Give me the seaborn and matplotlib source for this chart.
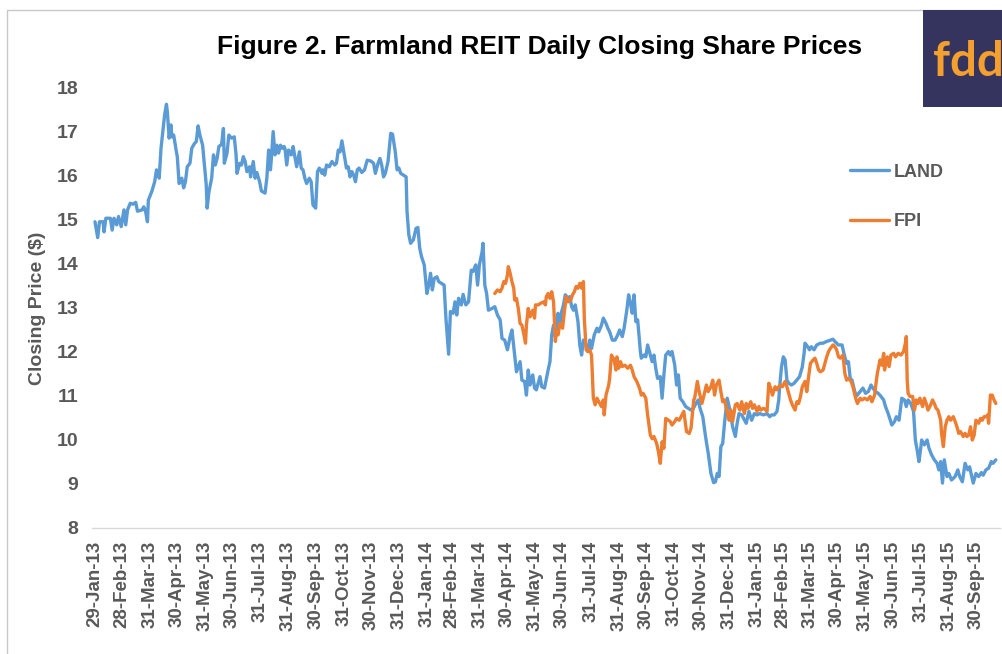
import matplotlib
matplotlib.use("Agg")
import matplotlib.pyplot as plt
from matplotlib.patches import Rectangle
import pandas as pd
import seaborn as sns

# Farmland REIT daily closing prices (days counted from first trading day)
start_date = "2013-01-29"

tick_labels = ["29-Jan-13", "28-Feb-13", "31-Mar-13", "30-Apr-13", "31-May-13", "30-Jun-13",
               "31-Jul-13", "31-Aug-13", "30-Sep-13", "31-Oct-13", "30-Nov-13", "31-Dec-13",
               "31-Jan-14", "28-Feb-14", "31-Mar-14", "30-Apr-14", "31-May-14", "30-Jun-14",
               "31-Jul-14", "31-Aug-14", "30-Sep-14", "31-Oct-14", "30-Nov-14", "31-Dec-14",
               "31-Jan-15", "28-Feb-15", "31-Mar-15", "30-Apr-15", "31-May-15", "30-Jun-15",
               "31-Jul-15", "31-Aug-15", "30-Sep-15"]

y_ticks = [8, 9, 10, 11, 12, 13, 14, 15, 16, 17, 18]

land_days = [0, 3, 5, 9, 10, 12, 17, 19, 21, 24,
             26, 29, 32, 34, 36, 39, 42, 45, 47, 52,
             54, 56, 58, 59, 63, 65, 66, 68, 71, 73,
             75, 77, 79, 80, 82, 84, 85, 87, 90, 91,
             93, 96, 98, 100, 102, 105, 107, 110, 112, 114,
             116, 119, 121, 123, 124, 126, 129, 131, 133, 135,
             137, 140, 142, 143, 146, 148, 151, 154, 156, 157,
             160, 162, 164, 166, 168, 171, 172, 175, 177, 179,
             182, 184, 188, 190, 192, 194, 195, 197, 199, 201,
             203, 205, 207, 209, 210, 212, 214, 217, 219, 221,
             223, 226, 228, 230, 232, 234, 237, 239, 241, 244,
             246, 248, 251, 252, 254, 256, 259, 262, 265, 267,
             269, 271, 273, 275, 278, 280, 282, 284, 286, 288,
             290, 292, 295, 298, 301, 305, 308, 310, 313, 315,
             317, 319, 321, 324, 327, 329, 332, 334, 336, 338,
             341, 344, 345, 347, 349, 352, 355, 357, 359, 361,
             364, 367, 369, 371, 373, 375, 378, 380, 383, 386,
             388, 391, 393, 396, 398, 400, 402, 405, 407, 410,
             413, 416, 418, 421, 423, 425, 428, 429, 431, 433,
             435, 439, 442, 445, 448, 450, 453, 456, 459, 461,
             464, 466, 470, 472, 475, 477, 479, 481, 484, 486,
             488, 492, 494, 497, 501, 503, 505, 507, 509, 512,
             514, 516, 518, 520, 523, 525, 527, 529, 531, 534,
             536, 538, 540, 543, 545, 547, 549, 552, 555, 557,
             560, 562, 565, 567, 569, 572, 575, 578, 580, 583,
             585, 588, 590, 592, 594, 596, 598, 600, 603, 604,
             607, 609, 611, 613, 616, 618, 620, 622, 625, 627,
             629, 631, 634, 636, 638, 641, 643, 645, 647, 650,
             653, 656, 659, 661, 665, 667, 669, 672, 674, 676,
             678, 681, 684, 686, 688, 690, 692, 694, 696, 699,
             702, 705, 708, 710, 712, 715, 720, 723, 726, 729,
             732, 735, 739, 743, 746, 748, 751, 754, 756, 757,
             759, 761, 763, 765, 767, 770, 773, 779, 782, 784,
             785, 788, 790, 792, 795, 798, 802, 805, 809, 813,
             816, 818, 822, 826, 828, 831, 833, 835, 837, 840,
             842, 846, 849, 852, 855, 858, 860, 863, 866, 869,
             872, 874, 877, 881, 884, 886, 889, 892, 895, 897,
             899, 902, 905, 907, 909, 911, 913, 914, 917, 920,
             922, 925, 928, 931, 933, 935, 937, 939, 942, 944,
             947, 951, 954, 956, 959, 962, 965, 967, 971, 974,
             977, 980, 982, 985, 988, 991, 993, 996]

land_price = [14.96, 14.60, 14.96, 14.96, 14.73, 15.04, 15.04, 14.77, 15.04, 14.89,
              15.08, 14.85, 15.23, 14.89, 15.23, 15.38, 15.36, 15.40, 15.20, 15.23,
              15.30, 15.19, 14.96, 15.45, 15.66, 15.80, 15.87, 16.14, 15.95, 16.63,
              17.01, 17.39, 17.63, 17.46, 16.86, 17.16, 16.89, 16.93, 16.55, 16.44,
              15.83, 15.95, 15.73, 15.87, 16.21, 16.29, 16.63, 16.74, 16.78, 17.14,
              16.93, 16.70, 16.25, 15.80, 15.27, 15.64, 15.95, 16.48, 16.25, 16.40,
              16.67, 16.72, 17.08, 16.29, 16.52, 16.93, 16.86, 16.89, 16.48, 16.06,
              16.29, 16.25, 16.44, 16.33, 16.10, 16.21, 15.98, 16.33, 15.95, 16.08,
              15.87, 15.66, 15.61, 15.95, 16.59, 16.14, 16.40, 17.01, 16.48, 16.70,
              16.52, 16.70, 16.63, 16.67, 16.63, 16.25, 16.59, 16.48, 16.67, 16.44,
              16.21, 16.55, 16.18, 16.14, 15.95, 15.83, 15.95, 15.87, 15.34, 15.27,
              16.10, 16.18, 16.06, 16.14, 16.02, 16.25, 16.21, 16.33, 16.25, 16.29,
              16.59, 16.55, 16.80, 16.55, 16.18, 16.21, 15.98, 16.10, 16.02, 15.87,
              16.14, 16.18, 16.08, 16.14, 16.36, 16.34, 16.29, 16.06, 16.29, 16.40,
              16.25, 15.98, 16.06, 16.33, 16.97, 16.95, 16.55, 16.14, 16.18, 16.06,
              16.02, 15.98, 15.19, 14.66, 14.47, 14.55, 14.81, 14.83, 14.36, 14.17,
              13.98, 13.33, 13.52, 13.79, 13.41, 13.67, 13.71, 13.60, 13.56, 13.52,
              12.77, 11.95, 12.92, 12.88, 13.14, 12.84, 13.22, 13.07, 13.31, 13.07,
              13.14, 13.86, 13.83, 13.98, 13.52, 13.98, 14.28, 14.47, 13.52, 13.33,
              12.95, 12.99, 13.03, 12.84, 12.73, 12.31, 12.27, 12.05, 12.35, 12.50,
              11.93, 11.55, 11.78, 11.36, 11.33, 11.02, 11.59, 11.25, 11.48, 11.18,
              11.14, 11.44, 11.21, 11.18, 11.59, 11.78, 12.39, 12.61, 12.35, 12.88,
              12.61, 12.92, 13.07, 13.30, 13.22, 13.26, 13.03, 12.95, 13.07, 12.69,
              12.16, 11.93, 12.27, 12.16, 12.01, 12.27, 12.08, 12.39, 12.54, 12.46,
              12.61, 12.77, 12.65, 12.54, 12.46, 12.27, 12.27, 12.39, 12.50, 12.35,
              12.54, 12.95, 13.30, 13.11, 12.88, 13.30, 12.69, 12.73, 12.01, 11.86,
              11.93, 11.89, 12.16, 12.01, 11.78, 11.93, 11.63, 11.40, 11.44, 10.95,
              11.48, 11.93, 12.01, 11.93, 12.01, 11.70, 11.25, 11.48, 10.95, 10.87,
              10.76, 10.72, 10.68, 10.70, 10.85, 10.91, 10.72, 10.53, 10.23, 9.95,
              9.70, 9.24, 9.03, 9.05, 9.24, 9.17, 9.85, 9.92, 10.38, 10.95,
              10.68, 10.30, 10.08, 10.38, 10.60, 10.57, 10.38, 10.65, 10.45, 10.60,
              10.57, 10.60, 10.57, 10.60, 10.53, 10.57, 10.57, 10.65, 10.91, 11.21,
              11.66, 11.89, 11.82, 11.36, 11.29, 11.25, 11.29, 11.44, 11.66, 11.97,
              12.20, 12.12, 12.05, 12.12, 12.05, 12.16, 12.20, 12.20, 12.24, 12.27,
              12.29, 12.24, 12.16, 12.16, 11.97, 11.74, 11.78, 11.40, 11.36, 11.10,
              11.00, 11.10, 11.18, 11.06, 11.10, 11.25, 11.18, 11.10, 11.06, 10.99,
              10.91, 10.76, 10.60, 10.34, 10.42, 10.53, 10.45, 10.95, 10.91, 10.76,
              10.91, 10.83, 10.65, 10.00, 9.77, 9.51, 9.82, 10.00, 9.89, 10.00,
              9.82, 9.66, 9.55, 9.47, 9.32, 9.51, 9.02, 9.55, 9.17, 9.24,
              9.09, 9.17, 9.32, 9.17, 9.05, 9.47, 9.32, 9.39, 9.02, 9.24,
              9.17, 9.26, 9.20, 9.32, 9.36, 9.51, 9.47, 9.55]

fpi_days = [442, 445, 448, 450, 452, 454, 456, 457, 459, 461,
            463, 464, 466, 468, 470, 472, 474, 476, 477, 479,
            481, 484, 486, 487, 490, 493, 496, 498, 499, 501,
            503, 505, 507, 509, 510, 512, 514, 517, 519, 521,
            523, 526, 528, 530, 532, 534, 536, 538, 540, 541,
            543, 545, 547, 549, 551, 553, 555, 557, 560, 562,
            563, 565, 568, 569, 571, 574, 576, 577, 579, 581,
            583, 586, 589, 592, 594, 596, 599, 602, 604, 606,
            609, 611, 614, 616, 618, 621, 623, 625, 627, 629,
            631, 634, 636, 638, 641, 643, 646, 649, 651, 654,
            657, 659, 662, 663, 666, 668, 671, 673, 676, 678,
            681, 683, 685, 687, 690, 692, 694, 696, 698, 701,
            703, 705, 708, 710, 713, 715, 718, 720, 722, 725,
            727, 729, 732, 734, 736, 739, 742, 743, 745, 747,
            749, 752, 754, 756, 758, 760, 763, 765, 767, 769,
            771, 774, 776, 778, 780, 782, 785, 787, 789, 791,
            794, 796, 798, 800, 802, 805, 807, 809, 811, 813,
            816, 818, 820, 822, 824, 827, 829, 831, 833, 836,
            838, 841, 843, 846, 848, 851, 854, 857, 859, 862,
            863, 865, 868, 870, 872, 873, 876, 878, 880, 883,
            885, 888, 891, 894, 896, 897, 898, 899, 901, 904,
            906, 908, 910, 912, 915, 917, 919, 921, 924, 926,
            928, 930, 932, 935, 936, 938, 940, 942, 944, 946,
            949, 951, 953, 955, 957, 960, 962, 964, 966, 968,
            970, 972, 974, 977, 979, 981, 983, 985, 987, 988,
            990, 992, 994, 996]

fpi_price = [13.33, 13.41, 13.37, 13.45, 13.60, 13.56, 13.75, 13.94, 13.79, 13.60,
             13.45, 13.18, 13.22, 12.99, 12.65, 12.61, 12.42, 12.20, 12.61, 12.99,
             12.80, 12.95, 12.77, 13.07, 13.07, 13.11, 13.14, 13.07, 13.26, 13.33,
             13.22, 13.37, 13.14, 12.24, 12.46, 12.39, 12.65, 12.54, 12.92, 13.26,
             13.14, 13.18, 13.30, 13.37, 13.49, 13.45, 13.56, 13.45, 13.60, 12.77,
             12.05, 12.01, 12.05, 11.93, 10.95, 10.80, 10.95, 10.87, 10.76, 10.91,
             10.57, 11.02, 11.25, 11.40, 11.93, 11.82, 11.59, 11.89, 11.63, 11.78,
             11.67, 11.70, 11.63, 11.70, 11.59, 11.44, 11.33, 11.18, 11.02, 11.06,
             10.95, 10.57, 10.11, 10.03, 10.08, 9.92, 9.73, 9.47, 9.96, 9.81,
             10.49, 10.45, 10.42, 10.34, 10.42, 10.49, 10.45, 10.57, 10.65, 10.19,
             10.15, 10.27, 10.91, 10.95, 11.33, 11.10, 10.83, 10.99, 11.25, 11.10,
             11.21, 11.36, 11.02, 11.25, 11.36, 11.10, 10.87, 10.91, 10.72, 10.45,
             10.68, 10.42, 10.80, 10.83, 10.68, 10.87, 10.60, 10.83, 10.72, 10.87,
             10.72, 10.80, 10.65, 10.76, 10.68, 10.72, 10.68, 10.65, 11.29, 11.18,
             11.02, 11.21, 11.14, 11.21, 11.25, 11.21, 11.33, 11.21, 11.06, 10.91,
             10.80, 10.68, 10.87, 10.83, 10.99, 11.21, 11.33, 11.10, 11.44, 11.74,
             11.82, 11.86, 11.74, 11.59, 11.55, 11.59, 11.74, 11.89, 12.01, 12.08,
             12.16, 12.12, 12.05, 11.89, 11.86, 11.93, 11.52, 11.36, 11.40, 11.33,
             11.21, 10.95, 10.83, 10.95, 10.91, 10.95, 10.91, 10.99, 10.87, 11.02,
             11.21, 11.52, 11.82, 11.70, 11.97, 11.59, 11.89, 11.67, 11.93, 11.97,
             11.89, 11.97, 11.93, 12.01, 12.20, 12.35, 11.36, 11.06, 10.99, 10.99,
             10.68, 10.91, 10.83, 10.95, 10.76, 10.95, 10.83, 10.68, 10.80, 10.91,
             10.83, 10.72, 10.68, 10.45, 10.15, 9.85, 10.30, 10.45, 10.53, 10.45,
             10.53, 10.42, 10.30, 10.15, 10.19, 10.08, 10.15, 10.08, 10.11, 10.30,
             10.00, 10.11, 10.45, 10.38, 10.49, 10.45, 10.53, 10.53, 10.57, 10.38,
             11.02, 11.02, 10.91, 10.83]

land_color = "#5B9BD5"
fpi_color = "#ED7D31"
gray = "#595959"

sns.set_style("white")
plt.rcParams["font.family"] = ["Liberation Sans", "DejaVu Sans"]

t0 = pd.Timestamp(start_date)
land = pd.DataFrame({"date": t0 + pd.to_timedelta(land_days, unit="D"), "price": land_price})
fpi = pd.DataFrame({"date": t0 + pd.to_timedelta(fpi_days, unit="D"), "price": fpi_price})

W, H = 1002, 654
fig = plt.figure(figsize=(W / 100, H / 100), dpi=100)
ax = fig.add_axes([92 / W, 1 - 528 / H, (1000 - 92) / W, (528 - 88) / H])

sns.lineplot(data=land, x="date", y="price", color=land_color, linewidth=2.4,
             label="LAND", estimator=None, sort=False, ax=ax)
sns.lineplot(data=fpi, x="date", y="price", color=fpi_color, linewidth=2.4,
             label="FPI", estimator=None, sort=False, ax=ax)

ax.set_xlim(t0 - pd.Timedelta(days=3.3), t0 + pd.Timedelta(days=1000.6))
ax.set_ylim(8, 18)
ax.set_yticks(y_ticks)
ax.set_yticklabels([str(v) for v in y_ticks], fontsize=14, fontweight="bold", color=gray)

tick_dates = pd.to_datetime(tick_labels, format="%d-%b-%y")
ax.set_xticks(tick_dates)
ax.set_xticklabels(tick_labels, rotation=90, fontsize=13.5, fontweight="bold", color=gray)
ax.tick_params(axis="y", length=0, pad=10)
ax.tick_params(axis="x", length=0, pad=9)

ax.set_xlabel("")
ax.set_ylabel("Closing Price ($)", fontsize=14, fontweight="bold", color=gray)
ax.yaxis.set_label_coords((46 - 92) / (1000 - 92), 0.5)

sns.despine(ax=ax, left=True)
ax.spines["bottom"].set_color("#d9d9d9")
ax.spines["bottom"].set_linewidth(1)

ax.legend(loc="center left", bbox_to_anchor=((850 - 92) / 908, (528 - 197) / 440),
          frameon=False, borderpad=0, borderaxespad=0, handlelength=2.15, handletextpad=0.25,
          labelspacing=1.8, prop={"size": 13, "weight": "bold"}, labelcolor=gray)

fig.text(540 / W, 1 - 47 / H, "Figure 2. Farmland REIT Daily Closing Share Prices",
         ha="center", va="center", fontsize=19, fontweight="bold", color="black")

# chart border and logo box
fig.add_artist(Rectangle((7 / W, -0.1), 1.2, 1.1 - 10 / H, transform=fig.transFigure,
                         fill=False, edgecolor="#c8c8c8", linewidth=1))
fig.add_artist(Rectangle((923 / W, 1 - 107 / H), 0.2, 97 / H, transform=fig.transFigure,
                         facecolor="#34345f", edgecolor="none"))
fig.text(933 / W, 1 - 62 / H, "fdd", ha="left", va="center", fontsize=34,
         fontweight="bold", color="#f5a02e", family=["Lato", "DejaVu Sans"])

fig.savefig("out.png", dpi=100)
